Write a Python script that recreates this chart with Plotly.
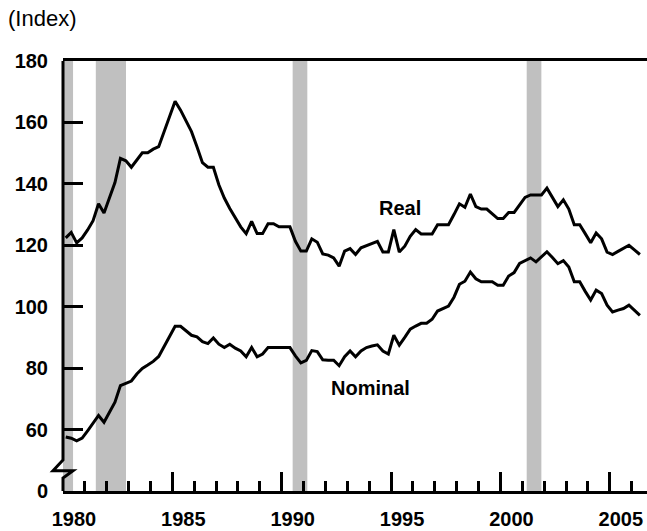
import plotly.graph_objects as go

# Quarterly data, 1980Q1 .. 2006Q2
start_year = 1980
real = [122.4, 124.2, 120.8, 122.4, 125.0, 128.0, 133.5, 130.5, 135.5, 140.4,
        148.3, 147.5, 145.4, 147.8, 150.1, 150.1, 151.3, 152.1, 157.0, 162.0,
        166.9, 164.0, 160.5, 157.0, 152.1, 146.9, 145.4, 145.4, 139.7, 135.4,
        132.0, 128.9, 126.0, 123.8, 127.8, 123.8, 123.8, 127.0, 127.0, 126.0,
        126.0, 126.0, 121.3, 118.1, 118.1, 122.1, 121.0, 117.2, 116.8, 115.9,
        113.2, 118.1, 118.9, 117.0, 119.2, 119.9, 120.6, 121.3, 117.8, 117.8,
        125.1, 117.8, 119.7, 122.9, 125.1, 123.7, 123.7, 123.7, 126.7, 126.7,
        126.7, 130.0, 133.5, 132.4, 136.7, 132.6, 131.8, 131.8, 130.3, 128.7,
        128.7, 130.7, 130.7, 133.3, 135.6, 136.4, 136.4, 136.4, 138.6, 135.6,
        132.6, 134.8, 131.8, 126.7, 126.7, 123.8, 120.8, 124.0, 122.1, 117.8,
        117.0, 118.0, 119.0, 120.0, 118.5, 117.0]
nominal = [57.6, 57.2, 56.3, 57.2, 59.6, 62.1, 64.6, 62.4, 65.7, 68.9,
           74.3, 75.0, 75.8, 78.1, 79.9, 81.0, 82.2, 83.8, 87.0, 90.3,
           93.6, 93.6, 92.0, 90.7, 90.2, 88.6, 88.0, 89.8, 87.8, 86.7,
           87.8, 86.5, 85.6, 83.7, 86.7, 83.7, 84.6, 86.7, 86.7, 86.7,
           86.7, 86.7, 84.0, 81.7, 82.5, 85.7, 85.4, 82.7, 82.6, 82.6,
           80.8, 83.7, 85.6, 83.7, 85.6, 86.7, 87.2, 87.6, 85.6, 84.6,
           90.7, 87.5, 90.0, 92.7, 93.7, 94.6, 94.6, 95.9, 98.6, 99.3,
           100.2, 103.1, 107.3, 108.3, 111.3, 109.1, 108.1, 108.1, 108.1, 107.0,
           107.0, 110.0, 111.1, 114.1, 115.0, 115.9, 114.6, 116.2, 117.9, 116.0,
           114.0, 115.0, 112.9, 108.1, 108.1, 105.0, 102.2, 105.4, 104.3, 100.5,
           98.3, 98.9, 99.4, 100.5, 98.9, 97.2]

# Recessions (decimal years)
rec_start = [1980.0, 1981.5, 1990.5, 2001.2]
rec_end = [1980.46, 1982.88, 1991.17, 2001.87]

label_years = [1980, 1985, 1990, 1995, 2000, 2005]
minor_tick_years = list(range(1981, 2007))
y_tickvals = [40, 60, 80, 100, 120, 140, 160, 180]
y_ticktext = ["0", "60", "80", "100", "120", "140", "160", "180"]

x = [start_year + (i + 0.5) / 4 for i in range(len(real))]
XR = [1980, 2006.70]

FONT = "Liberation Sans"
BOLD = dict(family=FONT, size=20, color="black", weight="bold")

fig = go.Figure()
fig.add_trace(go.Scatter(x=x, y=real, mode="lines",
                         line=dict(color="black", width=3), showlegend=False,
                         hoverinfo="skip"))
fig.add_trace(go.Scatter(x=x, y=nominal, mode="lines",
                         line=dict(color="black", width=3), showlegend=False,
                         hoverinfo="skip"))

for s, e in zip(rec_start, rec_end):
    fig.add_shape(type="rect", xref="x", yref="paper", x0=s, x1=e, y0=0, y1=1,
                  fillcolor="#c0c0c0", line=dict(width=0), layer="below")

# Left axis line with break marker
fig.add_shape(type="path", xref="paper", yref="y", xanchor=0, xsizemode="pixel",
              path="M0,180 L0,50.1 L-10,46.6 L10,46.6 L0,44.2 L0,40",
              line=dict(color="black", width=3), layer="above")

fig.add_annotation(text="Real", x=1995.41, y=132.2, xref="x", yref="y",
                   showarrow=False, font=BOLD)
fig.add_annotation(text="Nominal", x=1994.07, y=73.4, xref="x", yref="y",
                   showarrow=False, font=BOLD)
fig.add_annotation(text="(Index)", x=0, y=1, xref="paper", yref="paper",
                   xanchor="left", yanchor="middle", xshift=-57, yshift=43,
                   showarrow=False, font=dict(family=FONT, size=22, color="black"))

fig.update_layout(
    template="none",
    width=647, height=531,
    margin=dict(l=63, r=0, t=61, b=40, pad=0, autoexpand=False),
    paper_bgcolor="white", plot_bgcolor="white",
    font=dict(family=FONT, size=20, color="black"),
    xaxis=dict(range=XR, showgrid=False, zeroline=False, automargin=False,
               showline=True, mirror=True, linecolor="black", linewidth=3,
               tickmode="array", tickvals=label_years,
               ticktext=[str(v) for v in label_years],
               ticks="inside", ticklen=19, tickwidth=3, tickcolor="black",
               ticklabelshift=11, ticklabelstandoff=8, tickfont=BOLD,
               minor=dict(tickmode="array", tickvals=minor_tick_years,
                          ticks="inside", ticklen=10, tickwidth=3,
                          tickcolor="black", showgrid=False)),
    yaxis=dict(range=[40, 180], showgrid=False, zeroline=False, showline=False,
               automargin=False,
               tickmode="array", tickvals=y_tickvals, ticktext=y_ticktext,
               ticks="inside", ticklen=20, tickwidth=3, tickcolor="black",
               ticklabelstandoff=14, tickfont=BOLD),
)

fig.write_html("out.html", config={"displayModeBar": False},
               post_script="document.body.style.margin='0';document.body.style.overflow='hidden';")
